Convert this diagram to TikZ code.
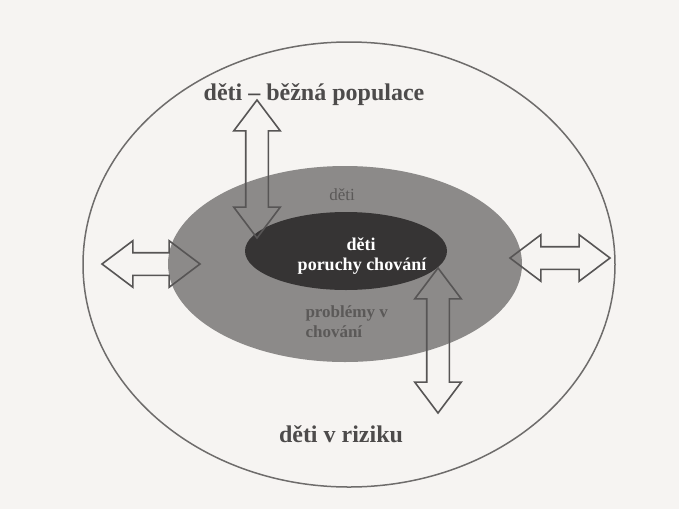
\documentclass[tikz,border=0pt]{standalone}
\usepackage{fontspec}
\setmainfont{Liberation Serif}
\usetikzlibrary{shapes.arrows,calc}
\definecolor{paper}{HTML}{F6F4F2}
\definecolor{rimline}{HTML}{6E6C6B}
\definecolor{riskfill}{HTML}{8C8A89}
\definecolor{corefill}{HTML}{363434}
\definecolor{arrowline}{HTML}{575555}
\definecolor{outtext}{HTML}{4D4B4B}
\definecolor{midtext}{HTML}{5B5958}
\tikzset{
  fatarrow/.style={double arrow, draw=arrowline, line width=1.6pt, inner xsep=0pt, inner ysep=10.5pt,
    minimum width=45pt, double arrow head extend=12pt, double arrow tip angle=74},
  bigtxt/.style={text=outtext, anchor=base, font=\bfseries\fontsize{24}{28}\selectfont},
  midtxt/.style={text=midtext, anchor=base west, font=\bfseries\fontsize{17}{20}\selectfont},
  coretxt/.style={text=white, anchor=base, font=\bfseries\fontsize{18}{20}\selectfont}
}
% outline double arrow between two named points
\newcommand\twoway[2]{%
  \path let \p1=($(#2)-(#1)$), \n1={veclen(\x1,\y1)}, \n2={atan2(\y1,\x1)} in
    node[fatarrow, minimum height=\n1, rotate=\n2] at ($(#1)!0.5!(#2)$) {};}
\begin{document}
\begin{tikzpicture}[x=1pt,y=-1pt]
    \fill [paper] (0,0) rectangle (679,509);
    \useasboundingbox (0,0) rectangle (679,509);
    \draw [rimline, line width=1.5pt] (349,264.5) ellipse [x radius=266, y radius=222.5];
    \fill [riskfill] (345,264) ellipse [x radius=177, y radius=98];
    \fill [corefill] (346,251) ellipse [x radius=101, y radius=39];
    \coordinate (topA) at (257,100);
    \coordinate (topB) at (257,238);
    \coordinate (botA) at (438,268);
    \coordinate (botB) at (438,413);
    \coordinate (leftA) at (102,264);
    \coordinate (leftB) at (200,264);
    \coordinate (rightA) at (510,258);
    \coordinate (rightB) at (610,258);
    \twoway{topA}{topB}
    \twoway{botA}{botB}
    \twoway{leftA}{leftB}
    \twoway{rightA}{rightB}
    \node [bigtxt] (pop) at (314,100) {děti – běžná populace};
    \node [bigtxt] (risk) at (341,442) {děti v riziku};
    \node [text=midtext, anchor=base, font=\fontsize{17}{20}\selectfont] (kids) at (342,200) {děti};
    \node [midtxt] (prob) at (302,317) {problémy v};
    \node [midtxt] (prob2) at (302,337) {chování};
    \node [coretxt] (core) at (361,250) {děti};
    \node [coretxt] (core2) at (362,270) {poruchy chování};
  \end{tikzpicture}
\end{document}
